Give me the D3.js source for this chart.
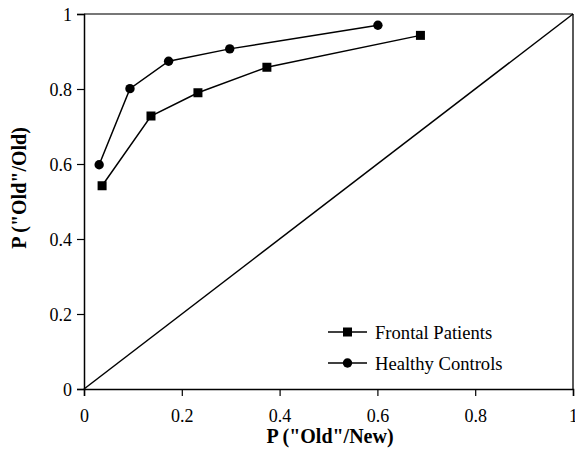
<!DOCTYPE html>
<html>
<head>
<meta charset="utf-8">
<script src="https://cdn.jsdelivr.net/npm/d3@7"></script>
<style>
    body { margin: 0; background: #fff; }
    svg { display: block; }
    text { font-family: 'Liberation Serif', 'Times New Roman', Tinos, serif !important; }
</style>
</head>
<body>
<div id="chart"></div>
<script>

// values
var frontalX = [0.037, 0.137, 0.233, 0.374, 0.688];
var frontalY = [0.542, 0.728, 0.790, 0.858, 0.943];
var healthyX = [0.031, 0.094, 0.173, 0.298, 0.601];
var healthyY = [0.598, 0.801, 0.874, 0.907, 0.970];
var ticks = [0, 0.2, 0.4, 0.6, 0.8, 1];
var seriesNames = ["Frontal Patients", "Healthy Controls"];

var width = 575, height = 451;
var margin = {top: 14, right: 2, bottom: 62, left: 84};

var svg = d3.select("#chart").append("svg")
    .attr("width", width)
    .attr("height", height)
    .attr("font-family", "Liberation Serif");

var x = d3.scaleLinear().domain([0, 1]).range([margin.left, width - margin.right]);
var y = d3.scaleLinear().domain([0, 1]).range([height - margin.bottom, margin.top]);

var fmt = function(d) { return d === 0 || d === 1 ? String(d) : d3.format(".1f")(d); };

// frame: top in grey, right in black
svg.append("line")
    .attr("x1", x(0)).attr("x2", x(1))
    .attr("y1", y(1)).attr("y2", y(1))
    .attr("stroke", "#777").attr("stroke-width", 2);
svg.append("line")
    .attr("x1", x(1)).attr("x2", x(1))
    .attr("y1", y(1)).attr("y2", y(0))
    .attr("stroke", "#000").attr("stroke-width", 1.3);

// chance diagonal
svg.append("line")
    .attr("x1", x(0)).attr("y1", y(0))
    .attr("x2", x(1)).attr("y2", y(1))
    .attr("stroke", "#000").attr("stroke-width", 1.5);

var xAxis = svg.append("g")
    .attr("transform", "translate(0," + y(0) + ")")
    .call(d3.axisBottom(x).tickValues(ticks).tickFormat(fmt).tickSize(7).tickPadding(13));
var yAxis = svg.append("g")
    .attr("transform", "translate(" + x(0) + ",0)")
    .call(d3.axisLeft(y).tickValues(ticks).tickFormat(fmt).tickSize(7).tickPadding(5));

[xAxis, yAxis].forEach(function(g) {
    g.attr("font-family", "Liberation Serif").attr("font-size", 18);
    g.select(".domain").attr("stroke", "#000").attr("stroke-width", 1.5);
    g.selectAll(".tick line").attr("stroke", "#000").attr("stroke-width", 1.2);
    g.selectAll(".tick text").attr("fill", "#000");
});
yAxis.selectAll(".tick text").attr("dy", "0.35em");

var line = d3.line()
    .x(function(d) { return x(d[0]); })
    .y(function(d) { return y(d[1]); });

var frontal = frontalX.map(function(v, i) { return [v, frontalY[i]]; });
var healthy = healthyX.map(function(v, i) { return [v, healthyY[i]]; });

svg.append("path").datum(frontal).attr("d", line)
    .attr("fill", "none").attr("stroke", "#000").attr("stroke-width", 1.5);
svg.append("path").datum(healthy).attr("d", line)
    .attr("fill", "none").attr("stroke", "#000").attr("stroke-width", 1.5);

var sq = 9;
svg.selectAll("rect.frontal")
    .data(frontal)
    .join("rect")
    .attr("class", "frontal")
    .attr("x", function(d) { return x(d[0]) - sq / 2; })
    .attr("y", function(d) { return y(d[1]) - sq / 2; })
    .attr("width", sq).attr("height", sq)
    .attr("fill", "#000");

svg.selectAll("circle.healthy")
    .data(healthy)
    .join("circle")
    .attr("class", "healthy")
    .attr("cx", function(d) { return x(d[0]); })
    .attr("cy", function(d) { return y(d[1]); })
    .attr("r", 4.7)
    .attr("fill", "#000");

// legend
var legend = svg.append("g").attr("transform", "translate(328,332)");
seriesNames.forEach(function(name, i) {
    var row = legend.append("g").attr("transform", "translate(0," + (i * 31) + ")");
    row.append("line").attr("x1", 0).attr("x2", 39).attr("y1", 0).attr("y2", 0)
        .attr("stroke", "#000").attr("stroke-width", 1.5);
    if (i === 0) {
        row.append("rect").attr("x", 19.5 - sq / 2).attr("y", -sq / 2)
            .attr("width", sq).attr("height", sq).attr("fill", "#000");
    } else {
        row.append("circle").attr("cx", 19.5).attr("cy", 0).attr("r", 4.7).attr("fill", "#000");
    }
    row.append("text").attr("x", 47).attr("y", 0).attr("dy", "0.35em")
        .attr("font-size", 18.6).text(name);
});

// axis titles
svg.append("text")
    .attr("x", 330).attr("y", 443)
    .attr("text-anchor", "middle")
    .attr("font-size", 20).attr("font-weight", "bold")
    .text('P ("Old"/New)');

svg.append("text")
    .attr("transform", "translate(26,188) rotate(-90)")
    .attr("text-anchor", "middle")
    .attr("font-size", 20).attr("font-weight", "bold")
    .text('P ("Old"/Old)');

</script>
</body>
</html>
